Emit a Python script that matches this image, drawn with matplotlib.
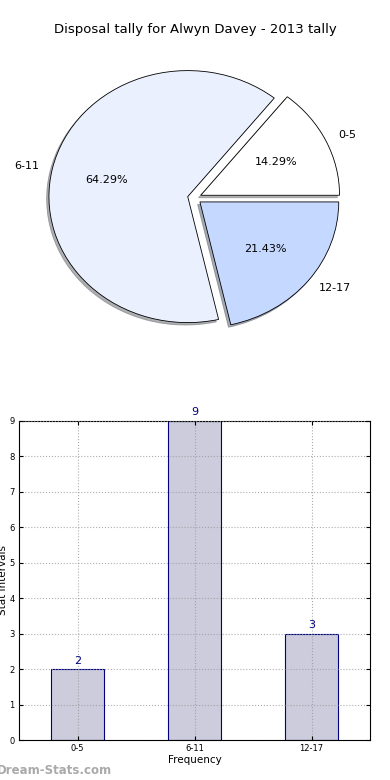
import numpy as np
from matplotlib import pyplot as plt

cats = ['0-5', '6-11', '12-17']
counts = [2, 9, 3]
pie_cols = ['#ffffff', '#eaf0fe', '#c5d8ff']

fig = plt.figure(figsize=(3.9, 7.8), dpi=100)

# pie on top
ax1 = fig.add_axes([21/390, 1-355.5/780, 347/390, 315/780])
wedges, txts, pcts = ax1.pie(counts, labels=cats, colors=pie_cols, explode=[0.05]*3,
                             autopct='%.2f%%', shadow={'ox': -0.012, 'oy': -0.014, 'shade': 0.6},
                             wedgeprops=dict(edgecolor='black', linewidth=0.6),
                             textprops=dict(fontsize=8))
ax1.set_aspect('auto')
ax1.set_xlim(-1.25, 1.25)
ax1.set_ylim(-1.25, 1.25)
fig.text(0.5, 1-30/780, 'Disposal tally for Alwyn Davey - 2013 tally',
         ha='center', va='center', fontsize=9.5)

# bars below
ax2 = fig.add_axes([19/390, 1-740/780, 351/390, 319/780])
x = np.arange(len(cats))
ax2.bar(x, counts, width=0.45, color='#ccccdd', edgecolor='navy', linewidth=0.8, zorder=2)
for xi, c in zip(x, counts):
    ax2.text(xi, c + 0.1, str(c), ha='center', va='bottom', color='navy', fontsize=8)
ax2.set_xlim(-0.5, 2.5)
ax2.set_ylim(0, 9)
ax2.set_xticks(x)
ax2.set_xticklabels(cats)
ax2.yaxis.set_major_locator(plt.MultipleLocator(1))
ax2.tick_params(labelsize=6, direction='in', top=True, right=True, length=3, pad=3)
ax2.grid(color='#999999', linestyle=':', linewidth=0.8, alpha=0.8, zorder=3)
ax2.set_axisbelow(False)
ax2.set_xlabel('Frequency', fontsize=7.5, labelpad=1)
fig.text(3/390, 1-580/780, 'Stat Intervals', rotation=90, ha='center', va='center', fontsize=7.5)

fig.text(-3/390, 1-770/780, 'Dream-Stats.com', ha='left', va='center',
         fontsize=8.5, color='#aaaaaa', fontweight='semibold')

fig.savefig('out.png', dpi=100)
